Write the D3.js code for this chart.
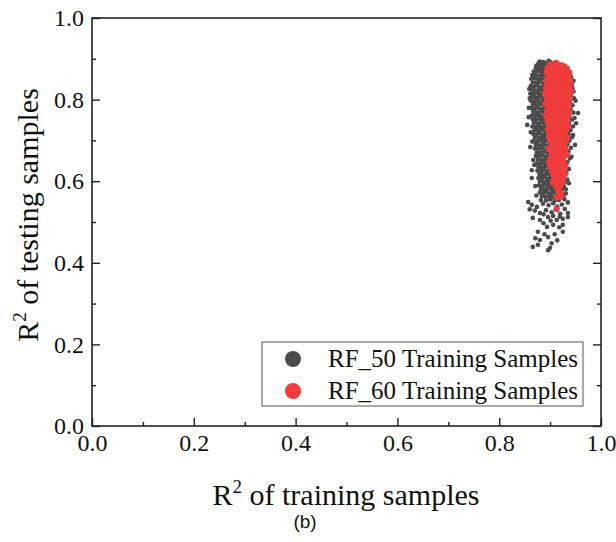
<!DOCTYPE html>
<html><head><meta charset="utf-8">
<script src="https://cdn.jsdelivr.net/npm/d3@7/dist/d3.min.js"></script>
<style>body{margin:0;background:#fff}svg{display:block}</style>
</head><body>
<script>
const seriesNames = ["RF_50 Training Samples", "RF_60 Training Samples"];
const seriesColors = ["#4b4b4b", "#f03c3c"];
const xTicks = [0.0, 0.2, 0.4, 0.6, 0.8, 1.0];
const yTicks = [0.0, 0.2, 0.4, 0.6, 0.8, 1.0];
const minorTicks = [0.1, 0.3, 0.5, 0.7, 0.9];

const rf50 = [
[0.880,0.893],[0.887,0.892],[0.893,0.889],[0.900,0.892],[0.907,0.889],[0.914,0.887],[0.876,0.886],[0.883,0.885],[0.890,0.884],
[0.872,0.878],[0.879,0.877],[0.886,0.876],[0.892,0.879],
[0.868,0.869],[0.875,0.870],[0.882,0.868],[0.889,0.869],[0.894,0.866],
[0.865,0.860],[0.872,0.861],[0.879,0.859],[0.886,0.860],[0.892,0.858],
[0.863,0.851],[0.870,0.852],[0.877,0.850],[0.884,0.851],[0.891,0.849],
[0.866,0.842],[0.873,0.841],[0.880,0.843],[0.887,0.840],[0.893,0.842],
[0.862,0.833],[0.869,0.832],[0.876,0.834],[0.883,0.831],[0.890,0.833],
[0.865,0.824],[0.872,0.823],[0.879,0.825],[0.886,0.822],[0.893,0.824],
[0.861,0.815],[0.868,0.814],[0.875,0.816],[0.882,0.813],[0.889,0.815],
[0.864,0.806],[0.871,0.805],[0.878,0.807],[0.885,0.804],[0.892,0.806],
[0.862,0.797],[0.869,0.796],[0.876,0.798],[0.883,0.795],[0.890,0.797],
[0.866,0.788],[0.873,0.787],[0.880,0.789],[0.887,0.786],[0.893,0.788],
[0.863,0.779],[0.870,0.778],[0.877,0.780],[0.884,0.777],[0.891,0.779],
[0.867,0.770],[0.874,0.769],[0.881,0.771],[0.888,0.768],[0.894,0.770],
[0.864,0.761],[0.871,0.760],[0.878,0.762],[0.885,0.759],[0.892,0.761],
[0.866,0.752],[0.873,0.751],[0.880,0.753],[0.887,0.750],[0.894,0.752],
[0.868,0.743],[0.875,0.742],[0.882,0.744],[0.889,0.741],[0.895,0.743],
[0.865,0.734],[0.872,0.733],[0.879,0.735],[0.886,0.732],[0.893,0.734],
[0.869,0.725],[0.876,0.724],[0.883,0.726],[0.890,0.723],[0.896,0.725],
[0.867,0.716],[0.874,0.715],[0.881,0.717],[0.888,0.714],[0.895,0.716],
[0.870,0.707],[0.877,0.706],[0.884,0.708],[0.891,0.705],[0.897,0.707],
[0.868,0.698],[0.875,0.697],[0.882,0.699],[0.889,0.696],[0.896,0.698],
[0.872,0.689],[0.879,0.688],[0.886,0.690],[0.893,0.687],[0.899,0.689],
[0.870,0.680],[0.877,0.679],[0.884,0.681],[0.891,0.678],[0.898,0.680],
[0.874,0.671],[0.881,0.670],[0.888,0.672],[0.895,0.669],[0.901,0.671],
[0.872,0.662],[0.879,0.661],[0.886,0.663],[0.893,0.660],[0.900,0.662],
[0.876,0.653],[0.883,0.652],[0.890,0.654],[0.897,0.651],[0.902,0.653],
[0.874,0.644],[0.881,0.643],[0.888,0.645],[0.895,0.642],[0.901,0.644],
[0.877,0.635],[0.884,0.634],[0.891,0.636],[0.898,0.633],[0.903,0.635],
[0.875,0.626],[0.882,0.625],[0.889,0.627],[0.896,0.624],[0.902,0.626],
[0.879,0.617],[0.886,0.616],[0.893,0.618],[0.900,0.615],[0.906,0.617],
[0.877,0.608],[0.884,0.607],[0.891,0.609],[0.898,0.606],[0.905,0.608],[0.912,0.604],[0.919,0.607],[0.926,0.609],
[0.880,0.599],[0.887,0.598],[0.894,0.600],[0.901,0.597],[0.908,0.599],[0.915,0.596],[0.922,0.600],[0.929,0.598],
[0.878,0.590],[0.885,0.589],[0.892,0.591],[0.899,0.588],[0.906,0.590],[0.913,0.587],[0.920,0.591],[0.927,0.588],
[0.882,0.581],[0.889,0.580],[0.896,0.582],[0.903,0.579],[0.910,0.581],[0.917,0.578],[0.924,0.582],[0.931,0.580],
[0.880,0.572],[0.887,0.571],[0.894,0.573],[0.901,0.570],[0.908,0.572],[0.915,0.569],[0.922,0.573],
[0.884,0.563],[0.891,0.562],[0.898,0.564],[0.905,0.561],[0.912,0.563],[0.919,0.560],[0.926,0.565],
[0.882,0.554],[0.892,0.553],[0.900,0.555],[0.909,0.552],[0.917,0.554],[0.928,0.556],
[0.857,0.549],[0.864,0.542],[0.874,0.537],[0.886,0.545],[0.897,0.541],[0.906,0.546],[0.914,0.538],[0.923,0.543],[0.935,0.548],
[0.880,0.522],[0.892,0.529],[0.903,0.524],[0.911,0.531],[0.920,0.520],[0.935,0.522],[0.935,0.512],
[0.866,0.510],[0.880,0.505],[0.896,0.512],[0.913,0.505],[0.906,0.515],[0.925,0.508],
[0.894,0.488],[0.906,0.493],[0.925,0.493],[0.925,0.476],[0.876,0.476],[0.887,0.497],
[0.880,0.456],[0.896,0.463],[0.909,0.470],[0.866,0.439],[0.876,0.444],[0.896,0.431],[0.900,0.437],
[0.938,0.848],[0.943,0.838],[0.940,0.828],[0.946,0.820],[0.941,0.812],[0.947,0.803],[0.939,0.795],[0.944,0.786],
[0.940,0.776],[0.946,0.768],[0.938,0.760],[0.943,0.751],[0.937,0.742],[0.945,0.734],[0.940,0.725],[0.936,0.716],
[0.943,0.708],[0.938,0.699],[0.934,0.690],[0.941,0.682],[0.936,0.673],[0.932,0.664],[0.939,0.656],[0.934,0.647],
[0.930,0.638],[0.937,0.630],[0.932,0.621],[0.928,0.614],
[0.855,0.738],[0.861,0.684],[0.864,0.627],[0.864,0.608],[0.955,0.767],[0.949,0.689],[0.951,0.742],[0.858,0.780],
[0.859,0.826],[0.860,0.803],[0.858,0.757],[0.862,0.720],[0.865,0.697],[0.867,0.652],[0.869,0.640],[0.871,0.588],
[0.873,0.565],[0.869,0.857],[0.873,0.883],[0.878,0.891],[0.897,0.895],[0.884,0.872],[0.877,0.819],[0.870,0.791],
[0.882,0.757],[0.875,0.728],[0.887,0.702],[0.879,0.665],[0.891,0.641],[0.884,0.613],[0.895,0.594],[0.903,0.585],
[0.915,0.559],[0.931,0.570],[0.937,0.595],[0.934,0.604],[0.942,0.660],[0.945,0.713],[0.948,0.755],[0.950,0.797],
[0.944,0.828],[0.941,0.855],[0.946,0.846],[0.887,0.519],[0.870,0.528],[0.901,0.503],[0.918,0.487],[0.889,0.470],
[0.871,0.460],[0.914,0.455],[0.903,0.448],[0.860,0.531],[0.929,0.532],[0.919,0.513]
];

const rf60 = [
[0.900,0.886],[0.908,0.887],[0.916,0.885],[0.923,0.884],
[0.895,0.877],[0.903,0.878],[0.911,0.876],[0.919,0.877],[0.927,0.875],[0.933,0.876],
[0.893,0.867],[0.901,0.866],[0.909,0.868],[0.917,0.867],[0.925,0.865],[0.933,0.867],[0.938,0.866],
[0.896,0.857],[0.904,0.858],[0.912,0.856],[0.920,0.857],[0.928,0.858],[0.936,0.856],
[0.893,0.847],[0.901,0.846],[0.909,0.848],[0.917,0.847],[0.925,0.846],[0.933,0.848],[0.939,0.847],
[0.895,0.837],[0.903,0.838],[0.911,0.836],[0.919,0.837],[0.927,0.838],[0.935,0.836],
[0.892,0.827],[0.900,0.826],[0.908,0.828],[0.916,0.827],[0.924,0.826],[0.932,0.828],[0.938,0.827],
[0.896,0.817],[0.904,0.818],[0.912,0.816],[0.920,0.817],[0.928,0.818],[0.936,0.816],
[0.893,0.807],[0.901,0.806],[0.909,0.808],[0.917,0.807],[0.925,0.806],[0.933,0.808],[0.939,0.807],
[0.895,0.797],[0.903,0.798],[0.911,0.796],[0.919,0.797],[0.927,0.798],[0.935,0.796],
[0.893,0.787],[0.901,0.786],[0.909,0.788],[0.917,0.787],[0.925,0.786],[0.933,0.788],
[0.896,0.777],[0.904,0.778],[0.912,0.776],[0.920,0.777],[0.928,0.778],[0.935,0.776],
[0.894,0.767],[0.902,0.766],[0.910,0.768],[0.918,0.767],[0.926,0.766],[0.933,0.768],
[0.897,0.757],[0.905,0.758],[0.913,0.756],[0.921,0.757],[0.929,0.758],[0.934,0.756],
[0.895,0.747],[0.903,0.746],[0.911,0.748],[0.919,0.747],[0.927,0.746],[0.933,0.748],
[0.898,0.737],[0.906,0.738],[0.914,0.736],[0.922,0.737],[0.930,0.738],
[0.896,0.727],[0.904,0.726],[0.912,0.728],[0.920,0.727],[0.928,0.726],[0.932,0.728],
[0.899,0.717],[0.907,0.718],[0.915,0.716],[0.923,0.717],[0.930,0.718],
[0.898,0.707],[0.906,0.706],[0.914,0.708],[0.922,0.707],[0.929,0.706],
[0.901,0.697],[0.909,0.698],[0.917,0.696],[0.925,0.697],[0.930,0.698],
[0.903,0.687],[0.911,0.686],[0.919,0.688],[0.927,0.687],
[0.902,0.677],[0.910,0.678],[0.918,0.676],[0.926,0.677],[0.930,0.678],
[0.904,0.667],[0.912,0.666],[0.920,0.668],[0.927,0.667],
[0.901,0.657],[0.909,0.658],[0.917,0.656],[0.925,0.657],
[0.903,0.647],[0.911,0.646],[0.919,0.648],[0.926,0.647],
[0.900,0.637],[0.908,0.638],[0.916,0.636],[0.924,0.637],[0.930,0.638],
[0.903,0.627],[0.911,0.626],[0.919,0.628],[0.926,0.627],
[0.906,0.617],[0.914,0.618],[0.922,0.616],
[0.908,0.607],[0.916,0.606],[0.923,0.608],
[0.910,0.597],[0.918,0.598],
[0.912,0.587],[0.920,0.588],
[0.916,0.575],[0.922,0.571],[0.913,0.560],[0.921,0.562],[0.913,0.532],
[0.890,0.815],[0.891,0.790],[0.892,0.760],[0.941,0.820],[0.940,0.840],[0.937,0.790],[0.936,0.765],[0.935,0.735],
[0.933,0.705],[0.933,0.665],[0.898,0.645],[0.897,0.680],[0.929,0.617],[0.905,0.597],[0.925,0.598],[0.904,0.880],
[0.928,0.881],[0.912,0.890]
];

const W = 616, H = 542;
const margin = {left: 92, right: 15, top: 18, bottom: 116};
const svg = d3.select("body").append("svg").attr("width", W).attr("height", H);
const x = d3.scaleLinear().domain([0, 1]).range([margin.left, W - margin.right]);
const y = d3.scaleLinear().domain([0, 1]).range([H - margin.bottom, margin.top]);
const serif = "'Liberation Serif','Times New Roman',serif";
const axisColor = "#222";

// points
svg.append("g").selectAll("circle").data(rf50).join("circle")
  .attr("cx", d => x(d[0])).attr("cy", d => y(d[1])).attr("r", 2.3).attr("fill", seriesColors[0]);
svg.append("g").selectAll("circle").data(rf60).join("circle")
  .attr("cx", d => x(d[0])).attr("cy", d => y(d[1])).attr("r", 3.1).attr("fill", seriesColors[1]);

// frame
svg.append("rect").attr("x", x(0)).attr("y", y(1)).attr("width", x(1) - x(0)).attr("height", y(0) - y(1))
  .attr("fill", "none").attr("stroke", axisColor).attr("stroke-width", 1.6);

function styleAxis(g) {
  g.select(".domain").remove();
  g.selectAll(".tick line").attr("stroke", axisColor).attr("stroke-width", 1.4);
}
// bottom axis
const bx = svg.append("g").attr("transform", `translate(0,${y(0)})`)
  .call(d3.axisBottom(x).tickValues(xTicks).tickFormat(d3.format(".1f")).tickSizeInner(-8).tickPadding(8));
styleAxis(bx);
bx.selectAll("text").attr("font-family", serif).attr("font-size", 24).attr("fill", "#111");
svg.append("g").attr("transform", `translate(0,${y(0)})`)
  .call(d3.axisBottom(x).tickValues(minorTicks).tickFormat("").tickSizeInner(-4)).call(styleAxis);
// left axis
const ly = svg.append("g").attr("transform", `translate(${x(0)},0)`)
  .call(d3.axisLeft(y).tickValues(yTicks).tickFormat(d3.format(".1f")).tickSizeInner(-8).tickPadding(8));
styleAxis(ly);
ly.selectAll("text").attr("font-family", serif).attr("font-size", 24).attr("fill", "#111");
svg.append("g").attr("transform", `translate(${x(0)},0)`)
  .call(d3.axisLeft(y).tickValues(minorTicks).tickFormat("").tickSizeInner(-4)).call(styleAxis);
// right axis ticks
svg.append("g").attr("transform", `translate(${x(1)},0)`)
  .call(d3.axisRight(y).tickValues(yTicks).tickFormat("").tickSizeInner(-8)).call(styleAxis);
svg.append("g").attr("transform", `translate(${x(1)},0)`)
  .call(d3.axisRight(y).tickValues(minorTicks).tickFormat("").tickSizeInner(-4)).call(styleAxis);

// axis titles
const xt = svg.append("text").attr("x", 346).attr("y", 505).attr("text-anchor", "middle")
  .attr("font-family", serif).attr("font-size", 30).attr("fill", "#111");
xt.append("tspan").text("R");
xt.append("tspan").attr("font-size", 19).attr("dy", -12).text("2");
xt.append("tspan").attr("dy", 12).text(" of training samples");

const yt = svg.append("text").attr("transform", "translate(38,215) rotate(-90)").attr("text-anchor", "middle")
  .attr("font-family", serif).attr("font-size", 30).attr("fill", "#111");
yt.append("tspan").text("R");
yt.append("tspan").attr("font-size", 19).attr("dy", -12).text("2");
yt.append("tspan").attr("dy", 12).text(" of testing samples");

// legend
const lg = svg.append("g");
lg.append("rect").attr("x", 262).attr("y", 342).attr("width", 321).attr("height", 64)
  .attr("fill", "#fff").attr("stroke", "#555").attr("stroke-width", 1);
seriesNames.forEach((n, i) => {
  const cy = 359 + i * 32;
  lg.append("circle").attr("cx", 293).attr("cy", cy).attr("r", 8).attr("fill", seriesColors[i]);
  lg.append("text").attr("x", 328).attr("y", cy + 8).attr("font-family", serif).attr("font-size", 25)
    .attr("fill", "#111").text(n);
});

// panel label
svg.append("text").attr("x", 305).attr("y", 528).attr("text-anchor", "middle")
  .attr("font-family", "'Liberation Sans',Arial,sans-serif").attr("font-size", 19).attr("fill", "#111").text("(b)");
</script>
</body></html>
